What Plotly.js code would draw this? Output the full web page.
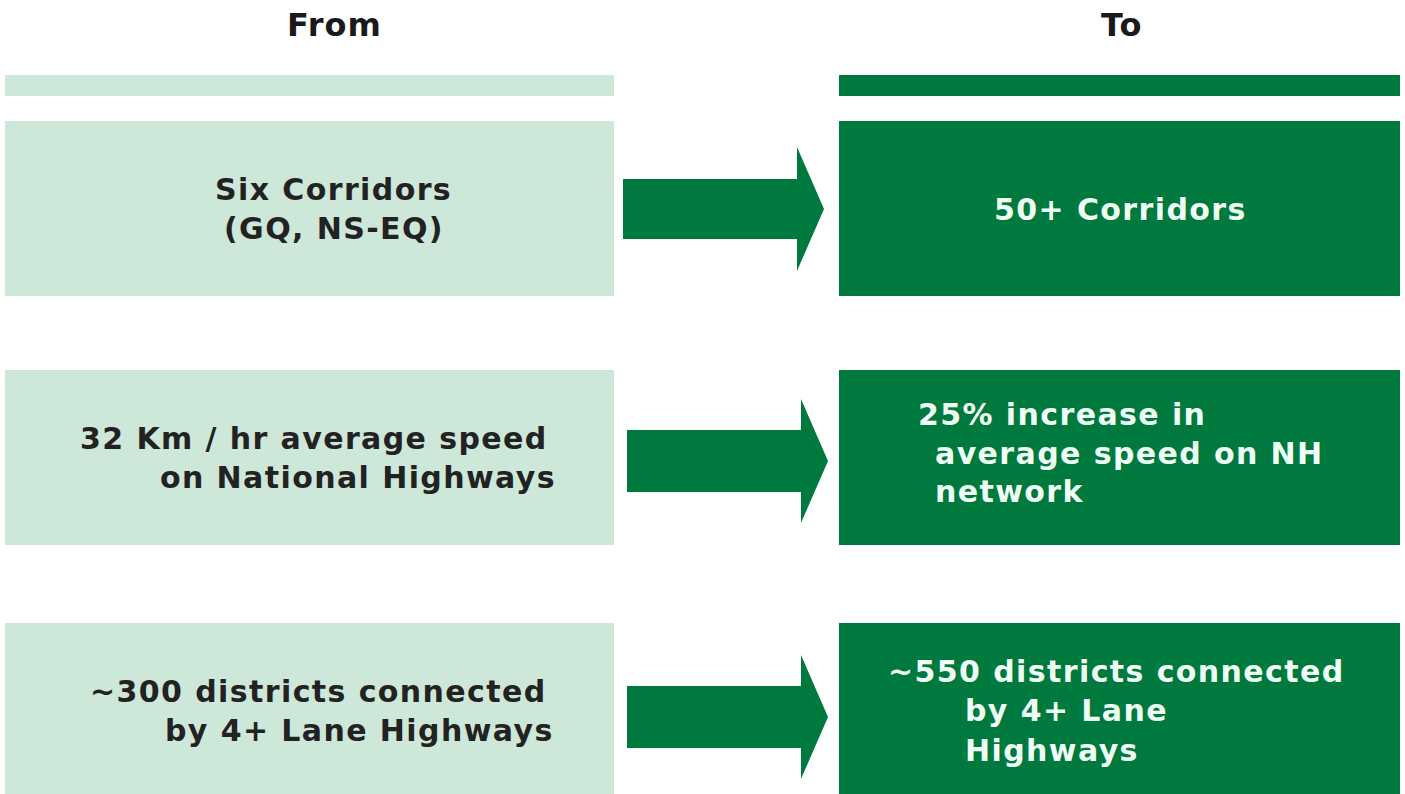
<!DOCTYPE html>
<html>
<head>
<meta charset="utf-8">
<script src="https://cdn.plot.ly/plotly-3.0.1.min.js"></script>
<style>html,body{margin:0;padding:0;background:#fff;}#chart{width:1405px;height:794px;}</style>
</head>
<body>
<div id="chart"></div>
<script>
// ---- content ----
const headers = ["From", "To"];
const fromLines = [
  ["Six Corridors", "(GQ, NS-EQ)"],
  ["32 Km / hr average speed", "on National Highways"],
  ["~300 districts connected", "by 4+ Lane Highways"]
];
const toLines = [
  ["50+ Corridors"],
  ["25% increase in", "average speed on NH", "network"],
  ["~550 districts connected", "by 4+ Lane", "Highways"]
];

// ---- layout constants (pixel space) ----
const W = 1405, H = 794;
const leftBox = [5, 614], rightBox = [839, 1400];
const stripY = [75, 96];
const rowY = [[121, 296], [370, 545], [623, 794]];
const lightGreen = "#cde7d8", darkGreen = "#00793f";
// per-line text placement: [x, y, anchor]
const fromPos = [
  [[333, 189, "center"], [334, 228, "center"]],
  [[78, 438, "left"], [158, 477, "left"]],
  [[88, 691, "left"], [163, 730, "left"]]
];
const toPos = [
  [[1120, 209, "center"]],
  [[916, 414, "left"], [933, 453, "left"], [933, 491, "left"]],
  [[886, 671, "left"], [963, 710, "left"], [963, 750, "left"]]
];
// arrows: body x0, head base x, tip x, center y, body half height, head half height
const arrows = [
  [623, 797, 824, 209, 30, 62],
  [627, 801, 828, 461, 31, 62],
  [627, 801, 828, 717, 31, 62]
];

const shapes = [];
function rect(x0, x1, y0, y1, c) {
  shapes.push({type: "rect", xref: "x", yref: "y", x0, x1, y0, y1, fillcolor: c, line: {width: 0}, layer: "below"});
}
rect(leftBox[0], leftBox[1], stripY[0], stripY[1], lightGreen);
rect(rightBox[0], rightBox[1], stripY[0], stripY[1], darkGreen);
rowY.forEach(r => {
  rect(leftBox[0], leftBox[1], r[0], r[1], lightGreen);
  rect(rightBox[0], rightBox[1], r[0], r[1], darkGreen);
});
arrows.forEach(a => {
  const [x0, xb, xt, cy, bh, hh] = a;
  const p = `M ${x0} ${cy - bh} L ${xb} ${cy - bh} L ${xb} ${cy - hh} L ${xt} ${cy} L ${xb} ${cy + hh} L ${xb} ${cy + bh} L ${x0} ${cy + bh} Z`;
  shapes.push({type: "path", xref: "x", yref: "y", path: p, fillcolor: darkGreen, line: {width: 0}});
});

const FONT = "DejaVu Sans, Verdana, sans-serif";
const FS = 30;
const SPACING = "1.4px";
const annotations = [];
headers.forEach((h, i) => {
  annotations.push({text: "<b><span style='letter-spacing:1px'>" + h + "</span></b>", x: i === 0 ? 334 : 1122, y: 25,
    xref: "x", yref: "y", showarrow: false, xanchor: "center", yanchor: "middle",
    font: {family: FONT, size: 32, color: "#1a1a1a"}});
});
function addLines(lines, pos, color) {
  lines.forEach((row, i) => row.forEach((t, j) => {
    const p = pos[i][j];
    annotations.push({text: "<b><span style='letter-spacing:" + SPACING + "'>" + t + "</span></b>", x: p[0], y: p[1],
      xref: "x", yref: "y", showarrow: false,
      xanchor: p[2], yanchor: "middle", font: {family: FONT, size: FS, color}});
  }));
}
addLines(fromLines, fromPos, "#222222");
addLines(toLines, toPos, "#f0fff4");

Plotly.newPlot("chart", [], {
  width: W, height: H,
  margin: {l: 0, r: 0, t: 0, b: 0},
  paper_bgcolor: "#ffffff", plot_bgcolor: "#ffffff",
  xaxis: {range: [0, W], visible: false, fixedrange: true},
  yaxis: {range: [H, 0], visible: false, fixedrange: true},
  shapes, annotations, showlegend: false
}, {displayModeBar: false, staticPlot: true});
</script>
</body>
</html>
